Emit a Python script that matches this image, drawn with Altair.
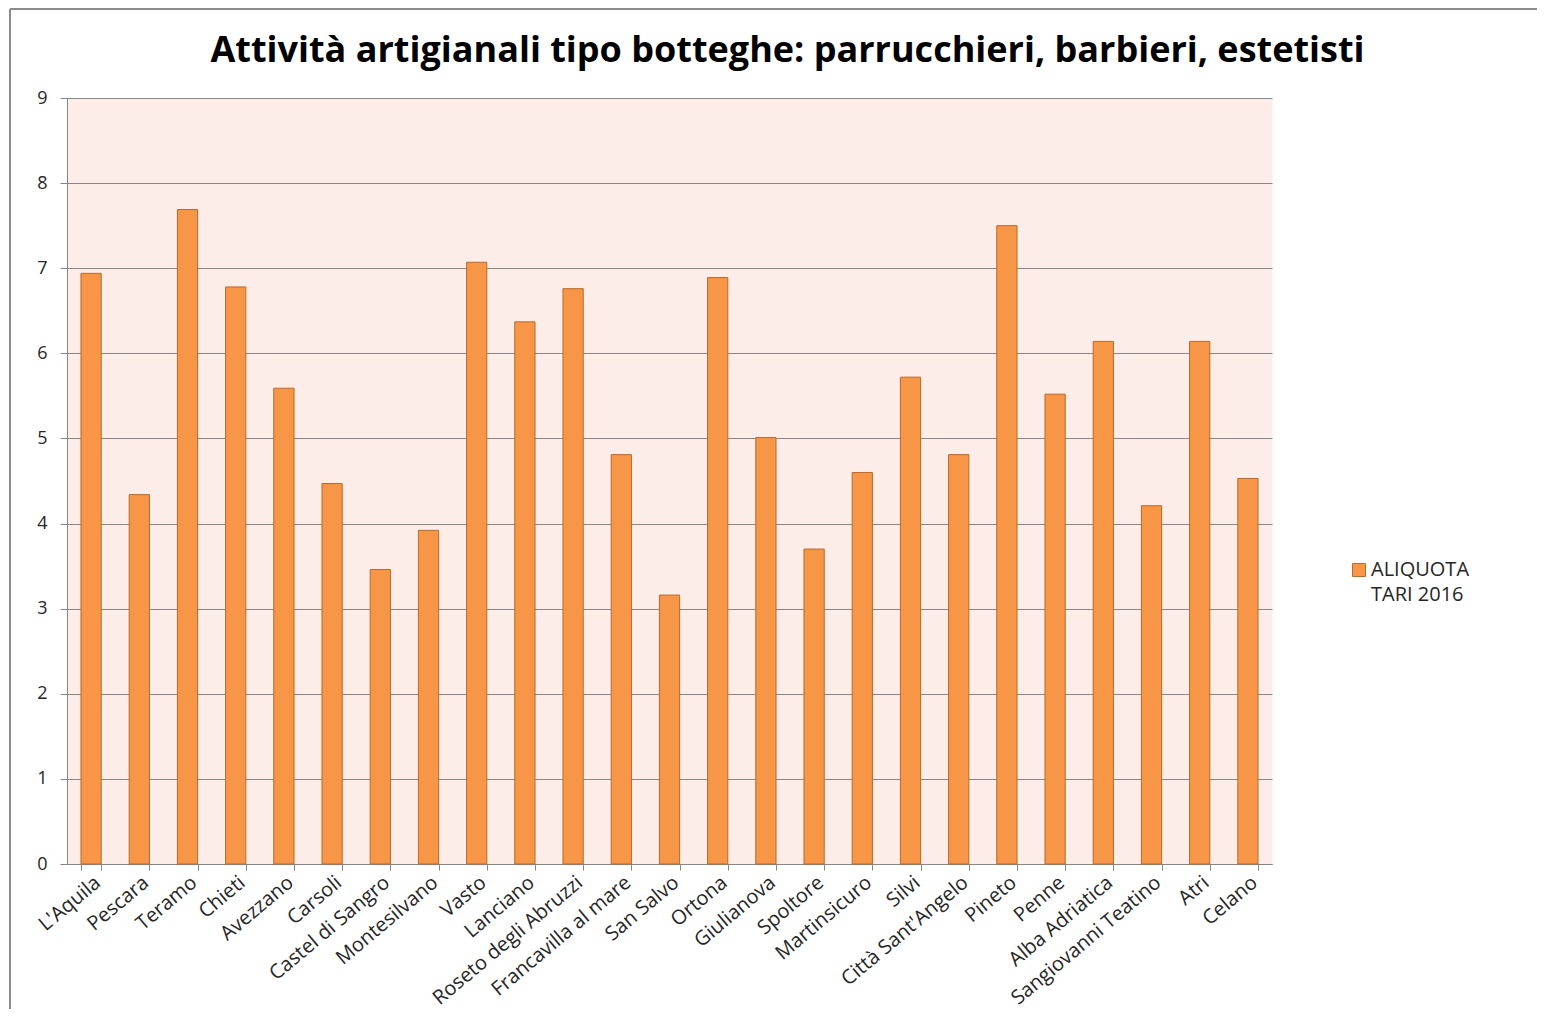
import altair as alt
import pandas as pd

comuni = ["L'Aquila", "Pescara", "Teramo", "Chieti", "Avezzano", "Carsoli",
          "Castel di Sangro", "Montesilvano", "Vasto", "Lanciano",
          "Roseto degli Abruzzi", "Francavilla al mare", "San Salvo", "Ortona",
          "Giulianova", "Spoltore", "Martinsicuro", "Silvi", "Città Sant'Angelo",
          "Pineto", "Penne", "Alba Adriatica", "Sangiovanni Teatino", "Atri", "Celano"]
aliquota = [6.94, 4.34, 7.69, 6.78, 5.59, 4.47, 3.46, 3.92, 7.07, 6.37,
            6.76, 4.81, 3.16, 6.89, 5.01, 3.70, 4.60, 5.72, 4.81, 7.50,
            5.52, 6.14, 4.21, 6.14, 4.53]
serie = "ALIQUOTA TARI 2016"
titolo = "Attività artigianali tipo botteghe: parrucchieri, barbieri, estetisti"
y_ticks = [0, 1, 2, 3, 4, 5, 6, 7, 8, 9]

df = pd.DataFrame({"Comune": comuni, "Aliquota": aliquota,
                   "Serie": [serie] * len(comuni)})

FONT = "Open Sans"
one = pd.DataFrame({"f": [0]})

frame_top = alt.Chart(one).mark_rule(color="#8C8C8C", strokeWidth=2).encode(
    x=alt.value(-57), x2=alt.value(1700), y=alt.value(-89)
)
frame_left = alt.Chart(one).mark_rule(color="#8C8C8C", strokeWidth=2).encode(
    x=alt.value(-57), y=alt.value(-89), y2=alt.value(1200)
)

bars = alt.Chart(df).mark_bar(stroke="#B96A2C", strokeWidth=1).encode(
    x=alt.X("Comune:N", sort=comuni, title=None,
            scale=alt.Scale(paddingInner=0.58, paddingOuter=0.29),
            axis=alt.Axis(labelAngle=-40, labelAlign="right", labelBaseline="top",
                          tickBand="extent", tickSize=6, tickColor="#868686",
                          domainColor="#868686", labelFont=FONT, labelFontSize=20,
                          labelColor="#262626", grid=False, labelPadding=2,
                          labelOverlap=False, labelLimit=300)),
    y=alt.Y("Aliquota:Q", title=None, scale=alt.Scale(domain=[0, 9], nice=False),
            axis=alt.Axis(values=y_ticks, format="d", tickSize=7, tickColor="#868686",
                          domainColor="#868686", gridColor="#868686", gridWidth=1,
                          labelFont=FONT, labelFontSize=18, labelColor="#262626",
                          labelPadding=13)),
    color=alt.Color("Serie:N", scale=alt.Scale(range=["#F79646"]),
                    legend=alt.Legend(title=None, orient="none", legendX=1282, legendY=462,
                                      symbolType="square", symbolSize=169,
                                      symbolStrokeColor="#B96A2C", symbolStrokeWidth=1,
                                      labelFont=FONT, labelFontSize=20, labelColor="#262626",
                                      labelExpr="['ALIQUOTA', 'TARI 2016']",
                                      labelOffset=2))
)

chart = alt.layer(frame_top, frame_left, bars).properties(
    width=1205, height=766,
    title=alt.TitleParams(titolo, font=FONT, fontSize=36, fontWeight="bold",
                          color="black", anchor="middle", baseline="bottom",
                          dx=118, dy=128, offset=30),
    autosize=alt.AutoSizeParams(type="none"),
    padding={"left": 59, "top": 90, "right": 265, "bottom": 145}
).configure(
    style={"guide-label": {"lineHeight": 25}},
    view={"fill": "#FCEDE8", "stroke": "transparent"}
)

chart.save("out.html", embed_options={"renderer": "svg", "actions": False})
